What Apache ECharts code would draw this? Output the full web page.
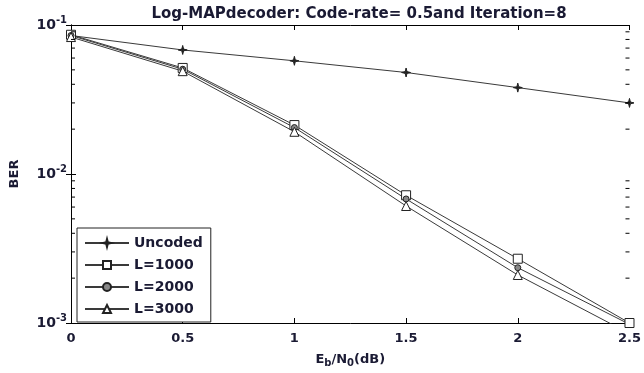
<!DOCTYPE html>
<html><head><meta charset="utf-8">
<script src="https://cdn.jsdelivr.net/npm/echarts@6/dist/echarts.min.js"></script>
<style>html,body{margin:0;padding:0;background:#fff}#c{width:644px;height:373px}</style>
</head><body><div id="c"></div>
<script>
var xValues = [0, 0.5, 1, 1.5, 2, 2.5];
var uncoded = [0.085, 0.068, 0.0575, 0.048, 0.038, 0.030];
var L1000 = [0.086, 0.0515, 0.0213, 0.0072, 0.0027, 0.00100];
var L2000 = [0.085, 0.0505, 0.0205, 0.0068, 0.00235, 0.00098];
var L3000 = [0.083, 0.049, 0.0192, 0.0061, 0.0021, 0.00085];
var seriesNames = ['Uncoded', 'L=1000', 'L=2000', 'L=3000'];
var minorTickValues = [0.002,0.003,0.004,0.005,0.006,0.007,0.008,0.009,0.02,0.03,0.04,0.05,0.06,0.07,0.08,0.09];

var FONT = 'DejaVu Sans';
var TXT = '#1a1a33';
var starPath = 'path://M0,-10 L2,-2 L10,0 L2,2 L0,10 L-2,2 L-10,0 L-2,-2 Z';
function pairs(ys){ return xValues.map(function(x,i){ return [x, ys[i]]; }); }
function lineSeries(name, ys, symbol, size, fill){
  return {
    name: name, type: 'line', data: pairs(ys), xAxisIndex: 0, yAxisIndex: 0,
    symbol: symbol, symbolSize: size, showAllSymbol: true,
    lineStyle: {color: '#3a3a3a', width: 1},
    itemStyle: {color: fill, borderColor: '#222', borderWidth: 1},
    clip: true, animation: false
  };
}
var chart = echarts.init(document.getElementById('c'));
chart.setOption({
  backgroundColor: '#fff',
  animation: false,
  title: {
    text: 'Log-MAPdecoder: Code-rate= 0.5and Iteration=8',
    left: 354, top: 2, textAlign: 'center',
    textStyle: {fontFamily: FONT, fontSize: 15, fontWeight: 'bold', color: TXT}
  },
  grid: {left: 69, right: 12, top: 25, bottom: 48},
  legend: {
    data: seriesNames, orient: 'vertical', left: 77, top: 228,
    borderColor: '#222', borderWidth: 1, padding: [8, 8, 6, 7], itemGap: 8,
    itemWidth: 44, itemHeight: 10, backgroundColor: '#fff',
    textStyle: {fontFamily: FONT, fontSize: 14, fontWeight: 'bold', color: TXT}
  },
  xAxis: [{
    type: 'value', min: 0, max: 2.5, interval: 0.5,
    name: '{n|E}{s|b}{n|/N}{s|0}{n|(dB)}', nameLocation: 'middle', nameGap: 28,
    nameTextStyle: {rich: {
      n: {fontFamily: FONT, fontSize: 13, fontWeight: 'bold', color: TXT},
      s: {fontFamily: FONT, fontSize: 10, fontWeight: 'bold', color: TXT, verticalAlign: 'bottom', padding: [7,0,0,0]}
    }},
    axisLine: {lineStyle: {color: '#000', width: 1}},
    axisTick: {inside: true, length: 5, lineStyle: {color: '#000'}},
    axisLabel: {fontFamily: FONT, fontSize: 13, fontWeight: 'bold', color: TXT, margin: 9},
    splitLine: {show: false}
  }, {
    type: 'value', min: 0, max: 2.5, interval: 0.5, position: 'top',
    axisLine: {lineStyle: {color: '#000', width: 1}},
    axisTick: {inside: true, length: 5, lineStyle: {color: '#000'}},
    axisLabel: {show: false}, splitLine: {show: false}
  }],
  yAxis: [{
    type: 'log', logBase: 10, min: 0.001, max: 0.1,
    name: 'BER', nameLocation: 'middle', nameGap: 50, nameRotate: 90,
    nameTextStyle: {fontFamily: FONT, fontSize: 13, fontWeight: 'bold', color: TXT},
    axisLine: {lineStyle: {color: '#000', width: 1}},
    axisTick: {inside: true, length: 5, lineStyle: {color: '#000'}},
    axisLabel: {
      margin: 4,
      formatter: function(v){ return '{b|10}{s|' + Math.round(Math.log10(v)) + '}'; },
      rich: {
        b: {fontFamily: FONT, fontSize: 14, fontWeight: 'bold', color: TXT},
        s: {fontFamily: FONT, fontSize: 10, fontWeight: 'bold', color: TXT, verticalAlign: 'top', padding: [0,0,9,0]}
      }
    },
    splitLine: {show: false}
  }, {
    type: 'log', logBase: 10, min: 0.001, max: 0.1, position: 'right',
    axisLine: {lineStyle: {color: '#000', width: 1}},
    axisTick: {inside: true, length: 5, lineStyle: {color: '#000'}},
    axisLabel: {show: false}, splitLine: {show: false}
  }],
  series: [
    lineSeries('Uncoded', uncoded, starPath, 9, '#222'),
    lineSeries('L=1000', L1000, 'rect', 9, '#fff'),
    lineSeries('L=2000', L2000, 'circle', 6, '#888'),
    lineSeries('L=3000', L3000, 'triangle', 9, '#fff'),
    {
      type: 'custom', name: 'minorTicks', silent: true, clip: false, z: 5,
      xAxisIndex: 0, yAxisIndex: 0,
      data: minorTickValues.map(function(v){ return [0, v]; }),
      renderItem: function(params, api){
        var l = api.coord([0, api.value(1)]);
        var r = api.coord([2.5, api.value(1)]);
        return {type: 'group', children: [
          {type: 'line', shape: {x1: l[0], y1: l[1], x2: l[0] + 4, y2: l[1]}, style: {stroke: '#000', lineWidth: 1}},
          {type: 'line', shape: {x1: r[0], y1: r[1], x2: r[0] - 4, y2: r[1]}, style: {stroke: '#000', lineWidth: 1}}
        ]};
      }
    }
  ]
});
</script></body></html>
